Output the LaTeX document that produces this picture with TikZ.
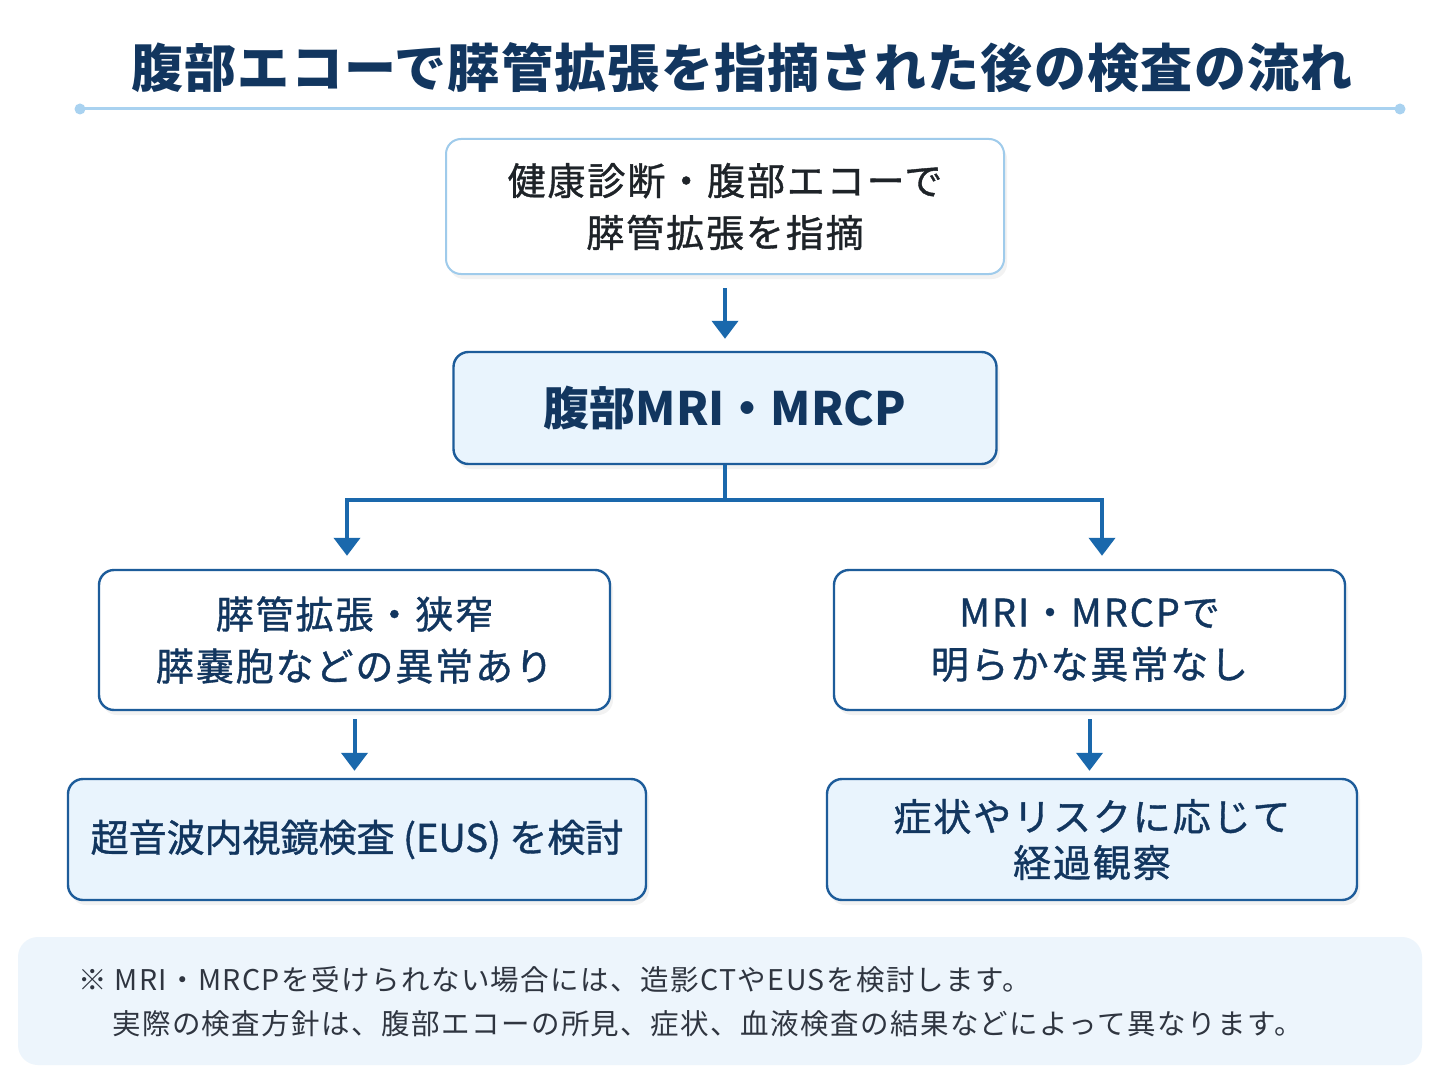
\documentclass[tikz,border=0pt]{standalone}
\usepackage{fontspec}
\newfontfamily\jp{Noto Sans CJK JP}
\newfontfamily\jptitle{Noto Sans CJK JP}[LetterSpace=2.5]
\newfontfamily\jpmid{Noto Sans CJK JP}[FakeBold=1,LetterSpace=5]
\newfontfamily\jptight{Noto Sans CJK JP}[FakeBold=1]
\newfontfamily\jpnote{Noto Sans CJK JP}[LetterSpace=5]
\usetikzlibrary{arrows.meta,shadows}

\definecolor{ink}{HTML}{12365F}
\definecolor{darkink}{HTML}{1E2328}
\definecolor{noteink}{HTML}{2F3540}
\definecolor{flowblue}{HTML}{1A68AC}
\definecolor{edgeblue}{HTML}{1D5C9A}
\definecolor{paleedge}{HTML}{9FCBEB}
\definecolor{tint}{HTML}{E9F4FD}
\definecolor{notetint}{HTML}{EDF5FC}
\definecolor{rulecol}{HTML}{A9D2F0}

\tikzset{
  plainbox/.style={draw=edgeblue, line width=2.4pt, fill=white, rounded corners=15pt,
    inner sep=0pt, align=center, text=ink,
    drop shadow={opacity=0.10, shadow xshift=3pt, shadow yshift=-5pt}},
  tintbox/.style={plainbox, fill=tint},
  flow/.style={draw=flowblue, line width=4pt,
    -{Triangle[width=26pt,length=18pt]}},
  boxtext/.style={font=\jpmid\fontsize{38}{52}\selectfont},
}

\begin{document}
\begin{tikzpicture}[x=1pt,y=-1pt]
    \useasboundingbox[fill=white] (0,0) rectangle (1448,1086);

    % title and rule
    \node[text=ink, font=\jptitle\bfseries\fontsize{52}{60}\selectfont] (Ttl) at (742,68)
      {腹部エコーで膵管拡張を指摘された後の検査の流れ};
    \coordinate (RuleL) at (80,109);
    \coordinate (RuleR) at (1400,109);
    \draw[rulecol, line width=3pt] (RuleL) -- (RuleR);
    \fill[rulecol] (RuleL) circle (5.5pt);
    \fill[rulecol] (RuleR) circle (5.5pt);

    % boxes
    \node[plainbox, draw=paleedge, line width=2pt, text=darkink, boxtext,
      minimum width=558pt, minimum height=135pt] (Scr) at (725,206.5)
      {健康診断・腹部エコーで\\膵管拡張を指摘};
    \node[tintbox, font=\jp\bfseries\fontsize{46}{52}\selectfont,
      minimum width=543pt, minimum height=112pt] (MRI) at (725,408)
      {腹部MRI・MRCP};
    \node[plainbox, boxtext, minimum width=511pt, minimum height=140pt] (Abn) at (354.5,640)
      {膵管拡張・狭窄\\膵嚢胞などの異常あり};
    \node[plainbox, boxtext, minimum width=511pt, minimum height=140pt] (Nor) at (1089.5,640)
      {MRI・MRCPで\\明らかな異常なし};
    \node[tintbox, font=\jptight\fontsize{38}{52}\selectfont,
      minimum width=578pt, minimum height=121pt] (EUS) at (357,839.5)
      {超音波内視鏡検査 (EUS) を検討};
    \node[tintbox, font=\jpmid\fontsize{38}{46}\selectfont,
      minimum width=530pt, minimum height=121pt] (Obs) at (1092,839.5)
      {症状やリスクに応じて\\経過観察};

    % arrows
    \draw[flow, shorten <=13pt, shorten >=12pt] (Scr.south) -- (MRI.north);

    \coordinate (Fork) at (725,500);
    \coordinate (ForkL) at (347,500);
    \coordinate (ForkR) at (1102,500);
    \draw[flowblue, line width=4pt] (MRI.south) -- (Fork);
    \draw[flow, shorten >=13pt] (Fork) -- (ForkL) -- (ForkL |- Abn.north);
    \draw[flow, shorten >=13pt] (Fork) -- (ForkR) -- (ForkR |- Nor.north);

    \draw[flow, shorten <=8pt, shorten >=7pt] (Abn.south) -- (Abn.south |- EUS.north);
    \draw[flow, shorten <=8pt, shorten >=7pt] (Nor.south) -- (Nor.south |- Obs.north);

    % note
    \node[fill=notetint, rounded corners=20pt, minimum width=1404pt, minimum height=128pt,
      inner sep=0pt] (Note) at (720,1001) {};
    \node[anchor=west, align=left, text=noteink, inner sep=0pt,
      font=\jpnote\fontsize{28.5}{44}\selectfont] (NoteTxt) at (78,1002)
      {※ MRI・MRCPを受けられない場合には、造影CTやEUSを検討します。\\
       \hspace*{34pt}実際の検査方針は、腹部エコーの所見、症状、血液検査の結果などによって異なります。};
\end{tikzpicture}
\end{document}
